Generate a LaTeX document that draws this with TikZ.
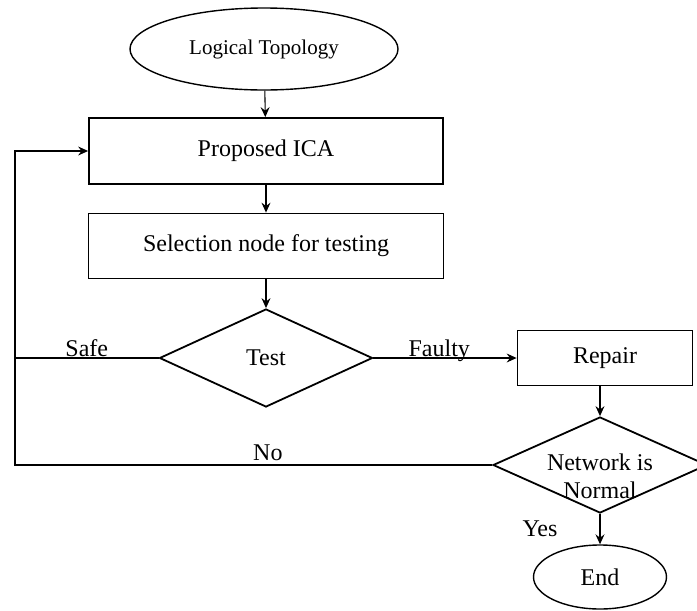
\documentclass[tikz,border=0pt]{standalone}
\usepackage{fontspec}
\setmainfont{Liberation Serif}
\usetikzlibrary{shapes.geometric,arrows.meta}

\begin{document}
\begin{tikzpicture}[x=1pt,y=-1pt,node distance=95pt,
    font=\fontsize{24}{28}\selectfont,
    >={Stealth[length=10pt,width=9pt,inset=3.5pt]},
    box/.style={draw,line width=1.8pt,inner sep=0pt},
    deci/.style={draw,diamond,line width=1.8pt,inner sep=0pt},
    term/.style={draw,ellipse,line width=1.4pt,inner sep=0pt},
    flow/.style={line width=1.1pt}]
      \useasboundingbox (0,0) rectangle (697,611);

      \node[term, minimum width=268pt, minimum height=82pt,
            font=\fontsize{21}{24}\selectfont] (topo) at (264,49) {Logical Topology};
      \node[box, minimum width=354pt, minimum height=66pt,
            below of=topo, yshift=-7pt, xshift=2pt] (ica) {Proposed ICA};
      \node[box, minimum width=355pt, minimum height=65pt,
            below of=ica] (sel) {Selection node for testing};
      \node[deci, minimum width=213pt, minimum height=98pt,
            below of=sel, yshift=-17pt] (test) {Test};

      \node[box, minimum width=175pt, minimum height=55pt,
            right of=test, xshift=244pt] (rep) {Repair};
      \node[deci, minimum width=214pt, minimum height=96pt,
            below of=rep, yshift=-12pt, xshift=-5pt] (norm) {};
      \node[align=center] (normtxt) at ([yshift=-11pt]norm.center) {Network is\\Normal};
      \node[term, minimum width=133pt, minimum height=64pt,
            below of=norm, yshift=-17pt] (end) {End};

      \coordinate (back) at (15,0);

      \draw[->,flow] (topo)--(ica);
      \draw[->,flow] (ica)--(sel);
      \draw[->,flow] (sel)--(test);
      \draw[->,flow] (test.east)-- node[anchor=base, yshift=2pt, pos=0.46] {Faulty} (rep.west);
      \draw[->,flow] (norm.north |- rep.south)--(norm.north);
      \draw[->,flow] (norm.south)-- node[anchor=east, inner sep=0pt, xshift=-42pt] {Yes} (end);

      \draw[flow] (test.west)-- node[anchor=base, yshift=2pt] {Safe} (back |- test.west);
      \draw[->,flow] (norm.west)-- node[anchor=base, yshift=5pt, pos=0.47] {No} (back |- norm.west)
            |- (ica.west);
    \end{tikzpicture}
\end{document}
